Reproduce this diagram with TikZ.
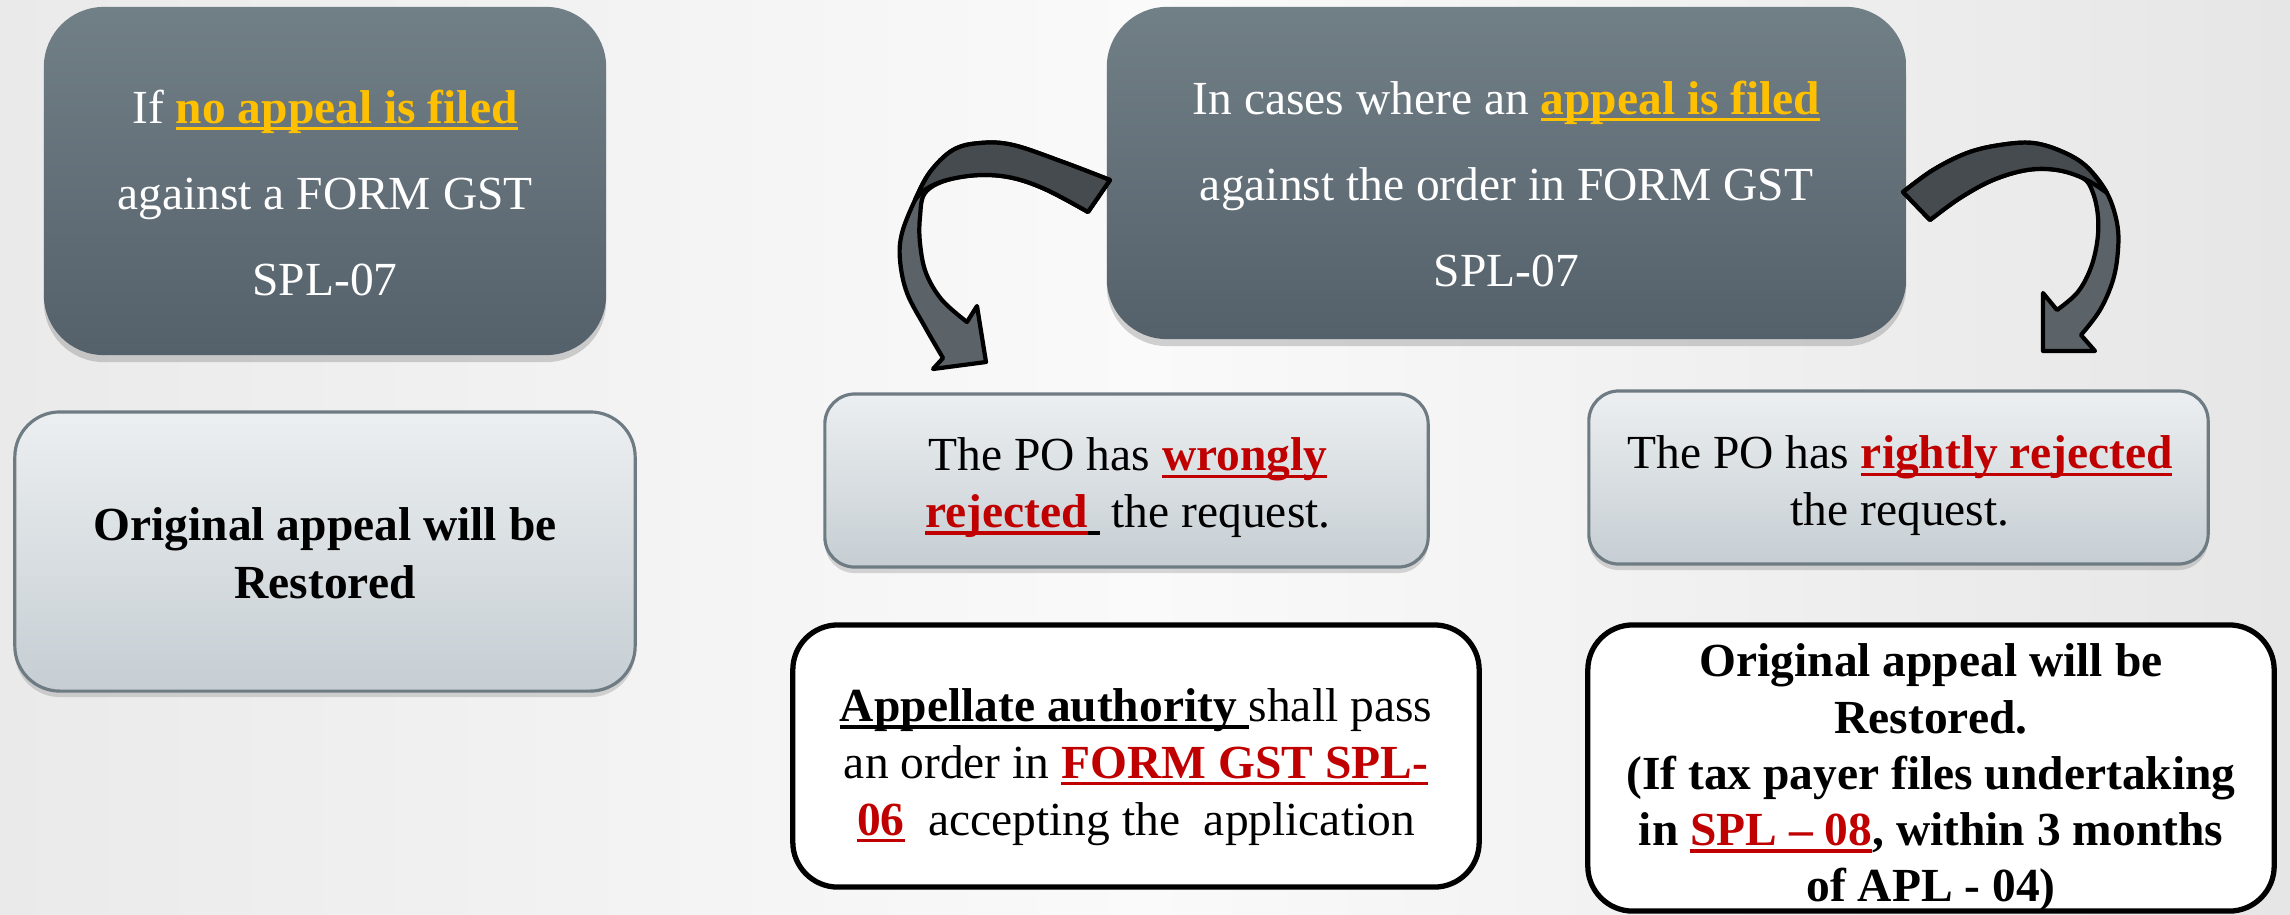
\documentclass[tikz,border=0pt]{standalone}
\usepackage{fontspec}
\setmainfont{Liberation Serif}
\usetikzlibrary{shadows}
\definecolor{bgL}{HTML}{EAEAEA}
\definecolor{bgM}{HTML}{FAFAFA}
\definecolor{bgR}{HTML}{E6E6E6}
\definecolor{darkT}{HTML}{717F87}
\definecolor{darkB}{HTML}{55616A}
\definecolor{liteT}{HTML}{ECEFF1}
\definecolor{liteB}{HTML}{C6CED3}
\definecolor{liteEdge}{HTML}{6E7B83}
\definecolor{gold}{HTML}{FFC000}
\definecolor{myred}{HTML}{C00000}
\definecolor{arrDark}{HTML}{464B50}
\definecolor{arrLite}{HTML}{5B6368}
\newcommand{\ulx}[1]{\leavevmode\setbox0=\hbox{#1}\rlap{\rule[-0.15em]{\wd0}{0.075em}}\box0}
\tikzset{
  darkbox/.style={rounded corners=0.6cm, top color=darkT, bottom color=darkB, draw=none,
    drop shadow={shadow xshift=0pt, shadow yshift=-0.07cm, opacity=0.35}},
  litebox/.style={rounded corners=0.42cm, top color=liteT, bottom color=liteB, draw=liteEdge, line width=0.9pt,
    drop shadow={shadow xshift=0pt, shadow yshift=-0.06cm, opacity=0.3}},
  whitebox/.style={rounded corners=0.45cm, fill=white, draw=black, line width=1.5pt},
  bigtxt/.style={inner sep=0pt, align=center, font={\fontsize{13.5}{24.5}\selectfont}, text=white},
  smalltxt/.style={inner sep=0pt, align=center, font={\fontsize{13.5}{16.2}\selectfont}, text=black},
  blockarrow/.style={fill=arrLite, draw=black, line width=1.2pt, line join=round},
  blockarrowtop/.style={fill=arrDark, draw=black, line width=1.2pt, line join=round}
}
\begin{document}
\begin{tikzpicture}[x=0.01cm, y=-0.01cm]
\useasboundingbox (0,0) rectangle (2290,914);
\shade[left color=bgL, right color=bgR, middle color=bgM] (0,0) rectangle (2290,914);

% boxes
\node[darkbox, minimum width=5.62cm, minimum height=3.48cm] (boxA) at (325,181) {};
\node[litebox, rounded corners=0.45cm, minimum width=6.20cm, minimum height=2.79cm] (boxB) at (325,551.5) {};
\node[darkbox, minimum width=7.99cm, minimum height=3.32cm] (boxC) at (1506.5,173) {};
\node[litebox, rounded corners=0.3cm, minimum width=6.03cm, minimum height=1.73cm] (boxD) at (1126.5,480.5) {};
\node[litebox, rounded corners=0.3cm, minimum width=6.19cm, minimum height=1.73cm] (boxE) at (1898.5,477.5) {};
\node[whitebox, minimum width=6.86cm, minimum height=2.62cm] (boxF) at (1136,756) {};
\node[whitebox, minimum width=6.86cm, minimum height=2.86cm] (boxG) at (1931,768) {};

% texts
\node[bigtxt] (tA) at (325,193) {If \textcolor{gold}{\ulx{\textbf{no appeal is filed}}}\\against a FORM GST\\SPL-07};
\node[smalltxt, font={\fontsize{13.5}{16.5}\selectfont\bfseries}] (tB) at (325,553) {Original appeal will be\\Restored};
\node[bigtxt] (tC) at (1506.5,184) {In cases where an \textcolor{gold}{\ulx{\textbf{appeal is filed}}}\\against the order in FORM GST\\SPL-07};
\node[smalltxt] (tD) at (1128,488) {The PO has \textcolor{myred}{\ulx{\textbf{wrongly}}}\\\textcolor{myred}{\ulx{\textbf{rejected}}}\ulx{\ }\ the request.};
\node[smalltxt] (tE) at (1900,486) {The PO has \textcolor{myred}{\ulx{\textbf{rightly rejected}}}\\the request.};
\node[smalltxt] (tF) at (1136,767) {\ulx{\textbf{Appellate authority}\ }shall pass\\an order in \textcolor{myred}{\ulx{\textbf{FORM GST SPL-}}}\\\textcolor{myred}{\ulx{\textbf{06}}}\ \ accepting the\ \ application};
\node[smalltxt, font={\fontsize{13.5}{16}\selectfont\bfseries}] (tG) at (1931,778) {Original appeal will be\\Restored.\\(If tax payer files undertaking\\in \textcolor{myred}{\ulx{SPL -- 08}}, within 3 months\\of APL - 04)};

% left curved arrow (from box C to box D)
\coordinate (lTail) at (1099,196);
\coordinate (lTip) at (986,362);
\path[blockarrow] plot[smooth, tension=0.6] coordinates {(1110,180) (1063,162) (1013,145) (980,143) (953,150) (930,172) (915,200) (902,233) (900,260) (907,293) (925,327) (943,358)}
  -- (933,369) -- (lTip) -- (977,306) -- (967,322)
  -- plot[smooth, tension=0.6] coordinates {(967,322) (942,300) (926,273) (920,243) (920,217) (925,193) (947,180) (980,175) (1013,178) (1047,190) (1088,212)} -- cycle;
\path[blockarrowtop] plot[smooth, tension=0.6] coordinates {(1110,180) (1063,162) (1013,145) (980,143) (953,150) (930,172) (915,200)}
  -- plot[smooth, tension=0.6] coordinates {(915,200) (926,189) (947,180) (980,175) (1013,178) (1047,190) (1088,212)} -- cycle;

% right curved arrow (from box C to box E)
\coordinate (rTail) at (1916,206);
\coordinate (rTip) at (2043,351);
\path[blockarrow] plot[smooth, tension=0.6] coordinates {(1903,192) (1933,170) (1967,153) (2000,145) (2033,143) (2063,152) (2087,167) (2107,193) (2117,223) (2118,250) (2113,280) (2100,310) (2081,335)}
  -- (2095,351) -- (rTip) -- (2043,293) -- (2057,310)
  -- plot[smooth, tension=0.6] coordinates {(2057,310) (2077,293) (2090,270) (2097,243) (2098,217) (2093,193) (2083,178) (2057,170) (2027,170) (1993,180) (1960,198) (1930,220)} -- cycle;
\path[blockarrowtop] plot[smooth, tension=0.6] coordinates {(1903,192) (1933,170) (1967,153) (2000,145) (2033,143) (2063,152) (2087,167) (2107,193)}
  -- plot[smooth, tension=0.6] coordinates {(2107,193) (2085,179) (2057,170) (2027,170) (1993,180) (1960,198) (1930,220)} -- cycle;
\end{tikzpicture}
\end{document}
